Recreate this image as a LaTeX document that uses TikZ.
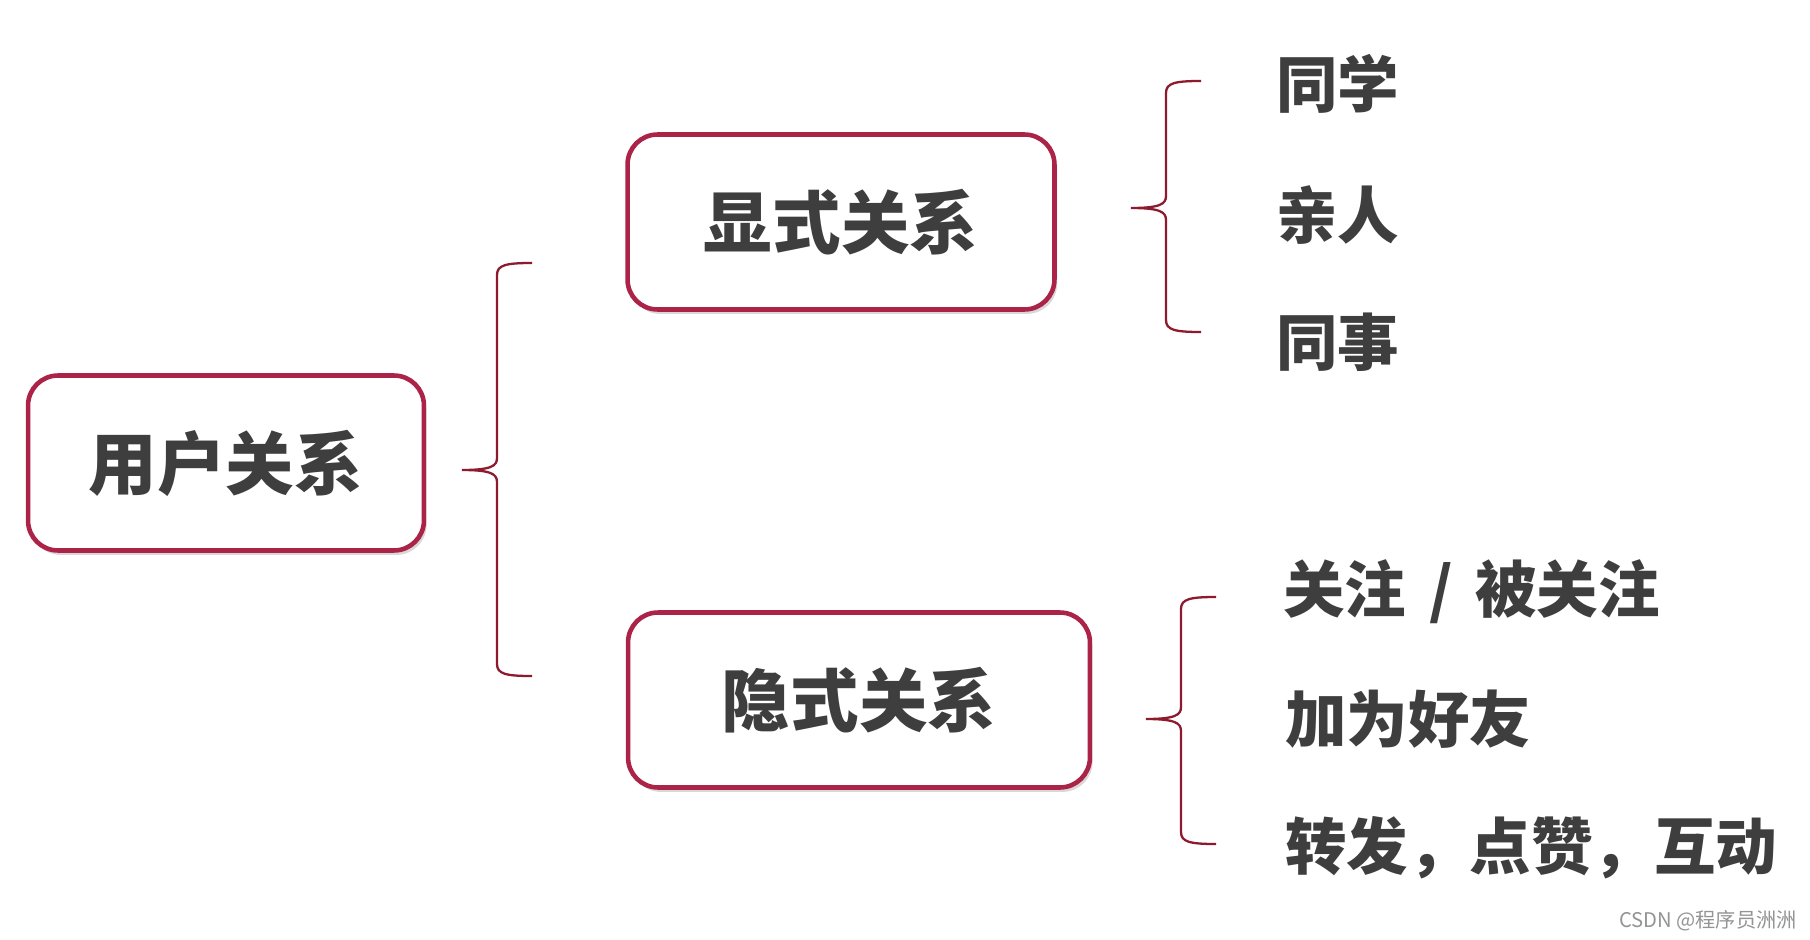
\documentclass[tikz,border=0pt]{standalone}
\usepackage{fontspec}
\usepackage{xcolor}
\usepackage{tikz}
\usetikzlibrary{positioning,shadows}
\newfontfamily\cjk{Noto Sans CJK SC}
\definecolor{rim}{HTML}{AC2348}
\definecolor{bk}{HTML}{8E1A2E}
\definecolor{ink}{HTML}{3E3E3E}

\tikzset{
  relbox/.style={draw=rim, line width=2.6pt, rounded corners=0.6cm, fill=white,
    drop shadow={opacity=0.3, shadow xshift=1.5pt, shadow yshift=-2.5pt},
    font=\cjk\bfseries\fontsize{39}{44}\selectfont, text=ink},
  item/.style={anchor=west, inner sep=0pt, font=\cjk\bfseries\fontsize{35}{40}\selectfont, text=ink},
  bkline/.style={draw=bk, line width=1.3pt},
  pics/bkt/.style 2 args={code={
    \draw[bkline] (70,-#1) .. controls (44,-#1) and (35,-#1+2) .. (35,-#1+12)
      -- (35,-12) .. controls (35,-4) and (29,0) .. (0,0)
      .. controls (29,0) and (35,4) .. (35,12)
      -- (35,#2-12) .. controls (35,#2-2) and (44,#2) .. (70,#2);
  }}
}

\begin{document}
\begin{tikzpicture}[x=0.02cm, y=-0.02cm]
  \fill[white] (0,0) rectangle (1810,940);
  \useasboundingbox (0,0) rectangle (1810,940);

  % boxes
  \node[relbox, minimum width=7.92cm, minimum height=3.5cm] (usr) at (226,463) {用户关系};
  \node[relbox, minimum width=8.54cm, minimum height=3.5cm] (xian) at (841,222) {显式关系};
  \node[relbox, minimum width=9.24cm, minimum height=3.5cm] (yin) at (859,700) {隐式关系};

  % braces
  \coordinate (b0) at (462,470);
  \coordinate (b1) at (1131,208);
  \coordinate (b2) at (1146,719);
  \pic at (b0) {bkt={207}{206}};
  \pic at (b1) {bkt={127}{124}};
  \pic at (b2) {bkt={122}{125}};

  % explicit
  \node[item] (tx) at (1276,84) {同学};
  \node[item] (qr) at (1276,215) {亲人};
  \node[item] (ts) at (1276,342) {同事};

  % implicit
  \node[item] (gz) at (1283,592) {关注\hspace{0.37em}/\hspace{0.37em}被关注};
  \node[item] (hy) at (1285,719) {加为好友};
  \node[item] (hd) at (1285,848) {转发，点赞，互动};

  \node[anchor=east, inner sep=0pt, font=\cjk\fontsize{11.5}{13}\selectfont, text=black!42] (wm) at (1797,921) {CSDN @程序员洲洲};
\end{tikzpicture}
\end{document}
